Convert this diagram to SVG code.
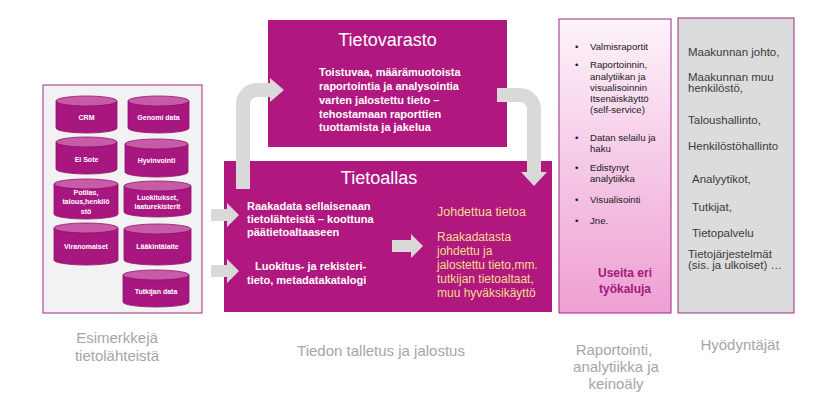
<svg xmlns="http://www.w3.org/2000/svg" width="837" height="414" viewBox="0 0 837 414">
<defs>
<linearGradient id="pinkGrad" x1="0" y1="0" x2="0" y2="1">
<stop offset="0" stop-color="#fdf3fa"/>
<stop offset="1" stop-color="#ee9fd3"/>
</linearGradient>
<style>
text{font-family:"Liberation Sans",Arial,sans-serif}
.mag{fill:#b0187f}
.cylb{fill:#a8177f;stroke:#8e0f6a;stroke-width:0.8}
.cylt{fill:#c75ba7;stroke:#8e0f6a;stroke-width:0.8}
.cyltx{fill:#fff;font-size:7px;font-weight:bold;text-anchor:middle}
.wb{fill:#fff;font-size:11px;font-weight:bold}
.title{fill:#fff;font-size:18px;text-anchor:middle}
.yel{fill:#f5dc8f;font-size:12px}
.rep{fill:#1a1a1a;font-size:9.6px}
.usr{fill:#3a3a3a;font-size:11.5px}
.cap{fill:#a6a6a6;font-size:15px;text-anchor:middle}
.garrow{fill:none;stroke:#d9d9d9;stroke-width:14}
.ghead{fill:#d9d9d9}
</style>
</defs>
<rect width="837" height="414" fill="#fff"/>

<g id="sources">
<rect x="43" y="85" width="159" height="228" fill="#f2f2f2" stroke="#a3267f" stroke-width="1"/>
<g id="cyl-crm">
<path class="cylb" d="M56 101 V128 A30.5 5 0 0 0 117 128 V101 Z"/>
<ellipse class="cylt" cx="86.5" cy="101" rx="30.5" ry="5"/>
<text class="cyltx" x="86.5" y="119.5">CRM</text>
</g>
<g id="cyl-genomi">
<path class="cylb" d="M128 101 V128 A30.5 5 0 0 0 189 128 V101 Z"/>
<ellipse class="cylt" cx="158.5" cy="101" rx="30.5" ry="5"/>
<text class="cyltx" x="158.5" y="119.5">Genomi data</text>
</g>
<g id="cyl-eisote">
<path class="cylb" d="M56 142 V169 A30.5 5 0 0 0 117 169 V142 Z"/>
<ellipse class="cylt" cx="86.5" cy="142" rx="30.5" ry="5"/>
<text class="cyltx" x="86.5" y="161.5">Ei Sote</text>
</g>
<g id="cyl-hyvinvointi">
<path class="cylb" d="M125 144 V172 A31.5 5 0 0 0 188 172 V144 Z"/>
<ellipse class="cylt" cx="156.5" cy="144" rx="31.5" ry="5"/>
<text class="cyltx" x="156.5" y="162.5">Hyvinvointi</text>
</g>
<g id="cyl-potilas">
<path class="cylb" d="M54 184 V214 A32 5 0 0 0 118 214 V184 Z"/>
<ellipse class="cylt" cx="86" cy="184" rx="32" ry="5"/>
<text class="cyltx" x="86" y="194.5">Potilas,</text>
<text class="cyltx" x="86" y="204">talous,henkilö</text>
<text class="cyltx" x="86" y="213.5">stö</text>
</g>
<g id="cyl-luokitukset">
<path class="cylb" d="M124 186 V212 A33.5 5 0 0 0 191 212 V186 Z"/>
<ellipse class="cylt" cx="157.5" cy="186" rx="33.5" ry="5"/>
<text class="cyltx" x="157.5" y="199.5">Luokitukset,</text>
<text class="cyltx" x="157.5" y="208.5">laaturekisterit</text>
</g>
<g id="cyl-viranomaiset">
<path class="cylb" d="M54 228 V260 A32 5 0 0 0 118 260 V228 Z"/>
<ellipse class="cylt" cx="86" cy="228" rx="32" ry="5"/>
<text class="cyltx" x="86" y="248.5">Viranomaiset</text>
</g>
<g id="cyl-laakintalaite">
<path class="cylb" d="M124 229 V260 A33.5 5 0 0 0 191 260 V229 Z"/>
<ellipse class="cylt" cx="157.5" cy="229" rx="33.5" ry="5"/>
<text class="cyltx" x="157.5" y="248.5">Lääkintälaite</text>
</g>
<g id="cyl-tutkijan">
<path class="cylb" d="M123 275 V302 A33 5 0 0 0 189 302 V275 Z"/>
<ellipse class="cylt" cx="156" cy="275" rx="33" ry="5"/>
<text class="cyltx" x="156" y="293.5">Tutkijan data</text>
</g>
</g>

<g id="tietovarasto">
<rect class="mag" x="268" y="20" width="239" height="127"/>
<text class="title" x="387.5" y="46">Tietovarasto</text>
<text class="wb" x="319" y="76">Toistuvaa, määrämuotoista</text>
<text class="wb" x="319" y="90">raportointia ja analysointia</text>
<text class="wb" x="319" y="103.5">varten jalostettu tieto –</text>
<text class="wb" x="319" y="117.5">tehostamaan raporttien</text>
<text class="wb" x="319" y="131">tuottamista ja jakelua</text>
</g>

<g id="tietoallas">
<rect class="mag" x="224" y="161" width="328" height="151"/>
<text class="title" x="379" y="184">Tietoallas</text>
<text class="wb" x="247" y="210">Raakadata sellaisenaan</text>
<text class="wb" x="247" y="223">tietolähteistä – koottuna</text>
<text class="wb" x="247" y="236">päätietoaltaaseen</text>
<text class="wb" x="255" y="270">Luokitus- ja rekisteri-</text>
<text class="wb" x="247" y="284">tieto, metadatakatalogi</text>
<text class="yel" x="437" y="216" style="font-size:12.5px">Johdettua tietoa</text>
<text class="yel" x="437" y="241">Raakadatasta</text>
<text class="yel" x="437" y="255">johdettu ja</text>
<text class="yel" x="437" y="269">jalostettu tieto,mm.</text>
<text class="yel" x="437" y="283">tutkijan tietoaltaat,</text>
<text class="yel" x="437" y="297">muu hyväksikäyttö</text>
</g>

<g id="raportointi">
<rect x="559" y="19" width="112" height="294" fill="url(#pinkGrad)" stroke="#9c2a7c" stroke-width="1"/>
<text class="rep" x="575" y="50">•</text><text class="rep" x="590" y="50">Valmisraportit</text>
<text class="rep" x="575" y="68">•</text><text class="rep" x="590" y="68">Raportoinnin,</text>
<text class="rep" x="590" y="80">analytiikan ja</text>
<text class="rep" x="590" y="91">visualisoinnin</text>
<text class="rep" x="590" y="102">Itsenäiskäyttö</text>
<text class="rep" x="590" y="113">(self-service)</text>
<text class="rep" x="575" y="141">•</text><text class="rep" x="590" y="141">Datan selailu ja</text>
<text class="rep" x="590" y="152">haku</text>
<text class="rep" x="575" y="171">•</text><text class="rep" x="590" y="171">Edistynyt</text>
<text class="rep" x="590" y="182">analytiikka</text>
<text class="rep" x="575" y="203">•</text><text class="rep" x="590" y="203">Visualisointi</text>
<text class="rep" x="575" y="224">•</text><text class="rep" x="590" y="224">Jne.</text>
<text x="625" y="277" fill="#a3197c" font-size="12" font-weight="bold" text-anchor="middle">Useita eri</text>
<text x="625" y="293" fill="#a3197c" font-size="12" font-weight="bold" text-anchor="middle">työkaluja</text>
</g>

<g id="hyodyntajat">
<rect x="678" y="18" width="116" height="295" fill="#dcdcdc" stroke="#9c2a7c" stroke-width="1"/>
<text class="usr" x="688" y="56">Maakunnan johto,</text>
<text class="usr" x="688" y="81">Maakunnan muu</text>
<text class="usr" x="688" y="92">henkilöstö,</text>
<text class="usr" x="688" y="124">Taloushallinto,</text>
<text class="usr" x="688" y="150">Henkilöstöhallinto</text>
<text class="usr" x="692" y="183">Analyytikot,</text>
<text class="usr" x="692" y="211">Tutkijat,</text>
<text class="usr" x="692" y="237">Tietopalvelu</text>
<text class="usr" x="688" y="258">Tietojärjestelmät</text>
<text class="usr" x="688" y="269">(sis. ja ulkoiset) …</text>
</g>

<g id="connectors">
<path class="garrow" d="M243 189 V104 A14 14 0 0 1 257 90 H271"/>
<polygon class="ghead" points="270,78 284,90 270,102"/>
<path class="garrow" d="M497 95 H520 A14 14 0 0 1 534 109 V173"/>
<polygon class="ghead" points="521,172 547,172 534,186"/>
<polygon class="ghead" points="211,209 227,209 227,203 239,215 227,227 227,221 211,221"/>
<polygon class="ghead" points="211,265 227,265 227,259 239,271 227,283 227,277 211,277"/>
<polygon class="ghead" points="392,240 411,240 411,234 423,246 411,258 411,252 392,252"/>
</g>

<g id="captions">
<text class="cap" x="117" y="343">Esimerkkejä</text>
<text class="cap" x="117" y="361">tietolähteistä</text>
<text class="cap" x="381" y="356">Tiedon talletus ja jalostus</text>
<text class="cap" x="614" y="355">Raportointi,</text>
<text class="cap" x="616" y="372">analytiikka ja</text>
<text class="cap" x="616" y="389">keinoäly</text>
<text class="cap" x="740" y="350">Hyödyntäjät</text>
</g>
</svg>
